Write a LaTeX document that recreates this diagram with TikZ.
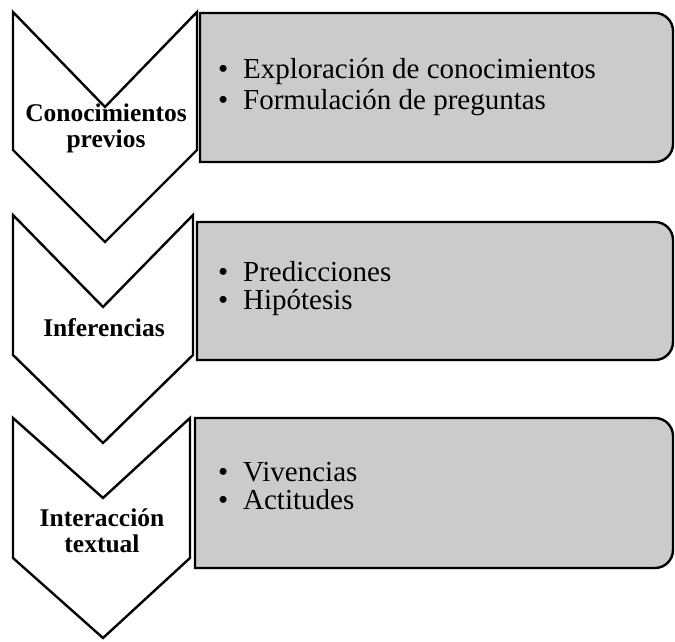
\documentclass[tikz,border=0pt]{standalone}
\usepackage{fontspec}
\setmainfont{Liberation Serif}
\definecolor{boxgray}{HTML}{CBCBCB}
\begin{document}
\begin{tikzpicture}[x=1pt,y=1pt,
  chev/.style={draw=black,line width=2.4pt,fill=white,line join=miter},
  panel/.style={draw=black,line width=2.4pt,fill=boxgray},
  lbl/.style={font=\fontsize{25.5}{26}\selectfont\bfseries,anchor=base,inner sep=0pt},
  item/.style={font=\fontsize{29}{31}\selectfont,anchor=base west,inner sep=0pt}]
\useasboundingbox (0,0) rectangle (675,642);
% chevrons
\draw[chev] (13,630) -- (105,535) -- (197,630) -- (197,492) -- (105,400) -- (13,492) -- cycle;
\draw[chev] (13,427) -- (103,335) -- (193,427) -- (193,287) -- (103,199) -- (13,287) -- cycle;
\draw[chev] (13,224) -- (103,144) -- (190,224) -- (190,84) -- (103,4) -- (13,84) -- cycle;
% panels
\draw[panel] (200,629) -- (655,629) arc[start angle=90,end angle=0,radius=18] -- (673,498) arc[start angle=0,end angle=-90,radius=18] -- (200,480) -- cycle;
\draw[panel] (197,420) -- (655,420) arc[start angle=90,end angle=0,radius=18] -- (673,300) arc[start angle=0,end angle=-90,radius=18] -- (197,282) -- cycle;
\draw[panel] (195,224) -- (655,224) arc[start angle=90,end angle=0,radius=18] -- (673,92) arc[start angle=0,end angle=-90,radius=18] -- (195,74) -- cycle;
% chevron labels
\node[lbl] (l1a) at (106,520) {Conocimientos};
\node[lbl] (l1b) at (106,494) {previos};
\node[lbl] (l2) at (104,305) {Inferencias};
\node[lbl] (l3a) at (102,115) {Interacción};
\node[lbl] (l3b) at (102,89) {textual};
% items
\node[item] (i1a) at (218,563) {\makebox[25pt][l]{\textbullet}Exploración de conocimientos};
\node[item] (i1b) at (218,532) {\makebox[25pt][l]{\textbullet}Formulación de preguntas};
\node[item] (i2a) at (218,360) {\makebox[25pt][l]{\textbullet}Predicciones};
\node[item] (i2b) at (218,332) {\makebox[25pt][l]{\textbullet}Hipótesis};
\node[item] (i3a) at (218,160) {\makebox[25pt][l]{\textbullet}Vivencias};
\node[item] (i3b) at (218,132) {\makebox[25pt][l]{\textbullet}Actitudes};
\end{tikzpicture}
\end{document}
